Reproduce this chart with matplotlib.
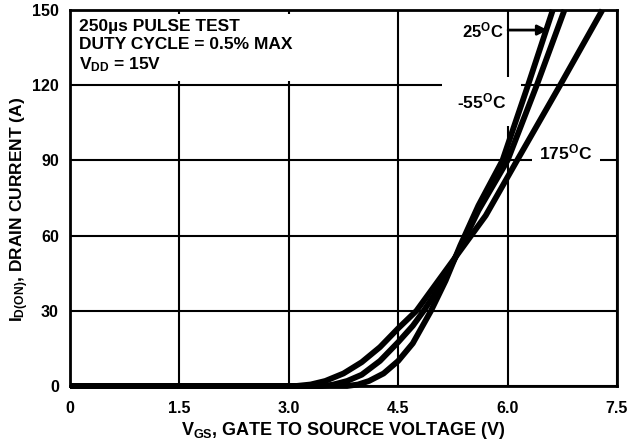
#!/usr/bin/env python3
import matplotlib
matplotlib.use("Agg")
import matplotlib.pyplot as plt

# transfer curves (V_GS in volts, I_D in amps)
vgs_175 = [0, 3.1, 3.3, 3.5, 3.75, 4.0, 4.25, 4.5, 4.75, 5.0, 5.35, 5.7, 6.13, 6.72, 7.3]
id_175 = [0, 0, 0.6, 2.0, 5.0, 9.5, 15.5, 23, 30, 40, 54, 68, 90, 120, 150]

vgs_25 = [0, 3.45, 3.6, 3.8, 4.0, 4.25, 4.5, 4.7, 4.85, 5.1, 5.35, 5.6, 6.0, 6.4, 6.78]
id_25 = [0, 0, 0.5, 2.0, 4.5, 10, 17.5, 24, 30, 41, 55, 70, 90, 120, 150]

vgs_m55 = [0, 3.8, 3.95, 4.1, 4.3, 4.5, 4.7, 4.95, 5.15, 5.35, 5.6, 5.93, 6.28, 6.62]
id_m55 = [0, 0, 0.6, 2.0, 5.0, 10, 17, 30, 42, 56, 72, 90, 120, 150]

x_ticks = [0, 1.5, 3.0, 4.5, 6.0, 7.5]
x_labels = ["0", "1.5", "3.0", "4.5", "6.0", "7.5"]
y_ticks = [0, 30, 60, 90, 120, 150]

plt.rcParams['font.family'] = ['Liberation Sans', 'DejaVu Sans']
plt.rcParams['font.weight'] = 'bold'
plt.rcParams['mathtext.fontset'] = 'custom'
plt.rcParams['mathtext.rm'] = 'Liberation Sans:bold'
plt.rcParams['mathtext.it'] = 'Liberation Sans:bold'
plt.rcParams['mathtext.bf'] = 'Liberation Sans:bold'
plt.rcParams['mathtext.default'] = 'rm'

fig = plt.figure(figsize=(6.33, 4.45), dpi=100)
ax = fig.add_axes([0.1106, 0.1326, 0.8641, 0.8449])

ax.set_xlim(0, 7.5)
ax.set_ylim(0, 150)
ax.set_xticks(x_ticks)
ax.set_xticklabels(x_labels)
ax.set_yticks(y_ticks)
ax.tick_params(length=0, labelsize=11.5)
ax.tick_params(axis='x', pad=11)
ax.tick_params(axis='y', pad=8)
for lbl in ax.get_xticklabels() + ax.get_yticklabels():
  lbl.set_fontweight('bold')
for s in ax.spines.values():
  s.set_linewidth(2)

ax.grid(True, color='black', lw=1.5)
ax.set_axisbelow(True)

for xs, ys in [(vgs_175, id_175), (vgs_25, id_25), (vgs_m55, id_m55)]:
  ax.plot(xs, ys, color='black', lw=4.2, solid_capstyle='butt', clip_on=False, zorder=4)

# test conditions block
ax.text(0.13, 146.5, "250\u00b5s PULSE TEST\nDUTY CYCLE = 0.5% MAX\nV$_{DD}$ = 15V",
        ha='left', va='top', fontsize=12.5, fontweight='bold', linespacing=1.25,
        bbox=dict(boxstyle='square,pad=0.4', fc='white', ec='none'), zorder=3)

ax.annotate("25$^{O}$C", xy=(6.55, 142), xytext=(5.95, 142), ha='right', va='center',
            fontsize=12, fontweight='bold',
            arrowprops=dict(arrowstyle='-|>', color='black', lw=2, mutation_scale=15,
                            shrinkA=1, shrinkB=0), zorder=3)
ax.text(5.64, 113.5, "-55$^{O}$C", ha='center', va='center', fontsize=12.5, fontweight='bold',
        bbox=dict(boxstyle='square,pad=0.85', fc='white', ec='none'), zorder=3)
ax.text(6.80, 93, "175$^{O}$C", ha='center', va='center', fontsize=12.5, fontweight='bold',
        bbox=dict(boxstyle='square,pad=0.45', fc='white', ec='none'), zorder=3)

ax.set_xlabel("V$_{GS}$, GATE TO SOURCE VOLTAGE (V)", fontsize=13, fontweight='bold', labelpad=3)
ax.set_ylabel("I$_{D(ON)}$, DRAIN CURRENT (A)", fontsize=12.5, fontweight='bold')
ax.yaxis.set_label_coords(-0.072, 0.47)

fig.savefig("out.png", dpi=100)
